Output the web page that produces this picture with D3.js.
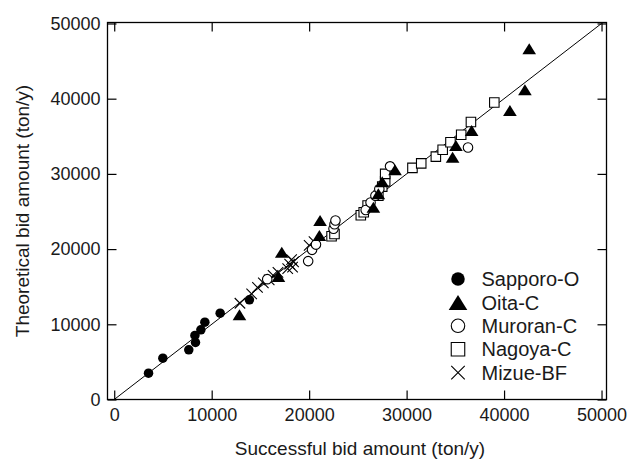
<!DOCTYPE html>
<html>
<head>
<meta charset="utf-8">
<script src="https://cdn.jsdelivr.net/npm/d3@7"></script>
<style>
  html, body { margin: 0; padding: 0; background: #fff; }
  svg { display: block; }
  text { font-family: "Liberation Sans", Arial, sans-serif; fill: #1a1a1a; }
</style>
</head>
<body>
<svg id="chart" width="628" height="461"></svg>
<script>
// ---- data (successful bid, theoretical bid) in ton/y ----
const sapporoX = [3520, 4990, 7650, 8340, 8280, 8890, 9300, 10870, 13870];
const sapporoY = [3500, 5490, 6610, 7580, 8520, 9270, 10280, 11480, 13260];

const oitaX = [12850, 16850, 17190, 21050, 21120, 26590, 27100, 27500, 28810, 34720, 35060, 36670, 40600, 42140, 42580];
const oitaY = [11260, 16360, 19590, 21810, 23800, 25570, 27350, 28950, 30540, 32220, 33780, 35770, 38430, 41180, 46630];

const muroranX = [15700, 19900, 20300, 20700, 22500, 22600, 22700, 25800, 26300, 26800, 27200, 28300, 36300];
const muroranY = [16000, 18400, 19900, 20600, 22700, 23300, 23800, 25200, 26200, 27100, 28000, 31000, 33500];

const nagoyaX = [22300, 22600, 25300, 25600, 26000, 27100, 27500, 27800, 27800, 30600, 31500, 33000, 33700, 34500, 35600, 36600, 39000];
const nagoyaY = [21700, 22000, 24500, 24900, 25800, 27100, 28300, 29000, 30000, 30800, 31400, 32300, 33200, 34200, 35200, 36900, 39500];

const mizueX = [12900, 14100, 14700, 15300, 15900, 16300, 16800, 17800, 18000, 18200, 18300, 18400, 20000, 20500];
const mizueY = [12800, 14050, 14900, 15500, 15900, 16500, 16900, 17400, 18000, 18600, 17600, 18300, 20500, 21000];

const seriesNames = ["Sapporo-O", "Oita-C", "Muroran-C", "Nagoya-C", "Mizue-BF"];
const seriesShapes = ["circleFilled", "triangleFilled", "circleOpen", "squareOpen", "cross"];
const tickValues = [0, 10000, 20000, 30000, 40000, 50000];
const xTitle = "Successful bid amount (ton/y)";
const yTitle = "Theoretical bid amount (ton/y)";

const seriesX = [sapporoX, oitaX, muroranX, nagoyaX, mizueX];
const seriesY = [sapporoY, oitaY, muroranY, nagoyaY, mizueY];

// ---- layout ----
const svg = d3.select("#chart");
const L = 107.5, R = 606.5, T = 22.5, B = 399.5;

const x = d3.scaleLinear().domain([-690, 50510]).range([L, R]);
const y = d3.scaleLinear().domain([0, 50130]).range([B, T]);

function markerPath(shape, s) {
  const h = s / 2;
  if (shape === "circleFilled" || shape === "circleOpen") {
    return `M${h},0A${h},${h} 0 1,1 ${-h},0A${h},${h} 0 1,1 ${h},0Z`;
  }
  if (shape === "triangleFilled") {
    const w = s * 0.62, hh = s * 0.5;
    return `M0,${-hh}L${w},${hh}L${-w},${hh}Z`;
  }
  if (shape === "squareOpen") {
    return `M${-h},${-h}H${h}V${h}H${-h}Z`;
  }
  // cross (X)
  return `M${-h},${-h}L${h},${h}M${-h},${h}L${h},${-h}`;
}
function styleMarker(sel, shape) {
  if (shape === "circleFilled" || shape === "triangleFilled") {
    sel.attr("fill", "#000").attr("stroke", "none");
  } else {
    sel.attr("fill", shape === "cross" ? "none" : "#fff").attr("stroke", "#000").attr("stroke-width", 1.1);
  }
}

// 1:1 line
svg.append("line")
  .attr("x1", x(0)).attr("y1", y(0))
  .attr("x2", x(50000)).attr("y2", y(50000))
  .attr("stroke", "#000").attr("stroke-width", 1);

// axes with inward ticks
const fontSize = 18;
const gB = svg.append("g").attr("transform", `translate(0,${B})`)
  .call(d3.axisBottom(x).tickValues(tickValues).tickFormat(d3.format("d")).tickSizeInner(-9).tickSizeOuter(0).tickPadding(9));
const gT = svg.append("g").attr("transform", `translate(0,${T})`)
  .call(d3.axisTop(x).tickValues(tickValues).tickFormat("").tickSizeInner(-9).tickSizeOuter(0));
const gL = svg.append("g").attr("transform", `translate(${L},0)`)
  .call(d3.axisLeft(y).tickValues(tickValues).tickFormat(d3.format("d")).tickSizeInner(-9).tickSizeOuter(0).tickPadding(7));
const gR = svg.append("g").attr("transform", `translate(${R},0)`)
  .call(d3.axisRight(y).tickValues(tickValues).tickFormat("").tickSizeInner(-9).tickSizeOuter(0));

[gB, gT, gL, gR].forEach(g => {
  g.select(".domain").remove();
  g.selectAll(".tick line").attr("stroke", "#000").attr("stroke-width", 1.2);
  g.selectAll(".tick text").attr("font-size", fontSize).attr("font-family", "Liberation Sans, Arial, sans-serif").attr("fill", "#1a1a1a");
});

// frame
svg.append("rect")
  .attr("x", L).attr("y", T).attr("width", R - L).attr("height", B - T)
  .attr("fill", "none").attr("stroke", "#000").attr("stroke-width", 1.3);

// points
const drawOrder = [4, 3, 2, 0, 1];
drawOrder.forEach(i => {
  const shape = seriesShapes[i];
  const pts = seriesX[i].map((v, k) => [v, seriesY[i][k]]);
  const size = shape === "triangleFilled" ? 11 : (shape === "cross" ? 10.5 : 9.5);
  svg.append("g").selectAll("path").data(pts).join("path")
    .attr("transform", d => `translate(${x(d[0])},${y(d[1])})`)
    .attr("d", markerPath(shape, size))
    .call(sel => styleMarker(sel, shape));
});

// legend
const legX = 458, legY0 = 279, legDy = 23.4;
seriesNames.forEach((name, i) => {
  const shape = seriesShapes[i];
  const gy = legY0 + i * legDy;
  const size = shape === "triangleFilled" ? 15 : 13.5;
  svg.append("path")
    .attr("transform", `translate(${legX},${gy})`)
    .attr("d", markerPath(shape, size))
    .call(sel => styleMarker(sel, shape));
  svg.append("text")
    .attr("x", legX + 23.5).attr("y", gy)
    .attr("dy", "0.36em")
    .attr("font-size", 20)
    .text(name);
});

// axis titles
svg.append("text")
  .attr("x", 360).attr("y", 455)
  .attr("text-anchor", "middle").attr("font-size", 19)
  .text(xTitle);
svg.append("text")
  .attr("transform", "translate(29,211) rotate(-90)")
  .attr("text-anchor", "middle").attr("font-size", 19)
  .text(yTitle);
</script>
</body>
</html>
